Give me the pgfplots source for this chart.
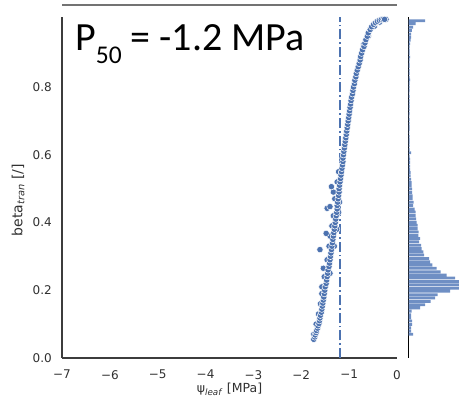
\documentclass[border=0pt]{standalone}
\usepackage{pgfplots}
\pgfplotsset{compat=1.18}
\usepackage{fontspec}
\setmainfont{DejaVu Sans}
\newfontfamily\carlito{Carlito}
\definecolor{sbblue}{HTML}{4C72B0}
\definecolor{histblue}{HTML}{6F8FC4}
\definecolor{spinec}{HTML}{3C3C3C}
\definecolor{tickc}{HTML}{303030}
\begin{document}
\begin{tikzpicture}
\useasboundingbox (0,0) rectangle (459pt,401pt);
\draw[color=black!55, line width=2pt] (62pt,396pt) -- (397pt,396pt);
\begin{axis}[
 at={(62pt,43pt)}, anchor=south west, scale only axis,
 width=335pt, height=341pt,
 xmin=-7, xmax=0, ymin=0, ymax=1.007,
 axis x line*=bottom, axis y line*=left,
 axis line style={spinec, line width=1.1pt, -},
 xtick={-7,-6,-5,-4,-3,-2,-1,0}, xticklabels={−7,−6,−5,−4,−3,−2,−1,0},
 ytick={0,0.2,0.4,0.6,0.8}, yticklabels={0.0,0.2,0.4,0.6,0.8},
 major tick length=0pt,
 tick label style={font=\fontsize{12}{14}\selectfont, text=tickc},
 xticklabel style={anchor=north, inner sep=0pt, yshift=-12pt},
 yticklabel style={anchor=east, inner sep=0pt, xshift=-10pt},
 xlabel={ψ\textsubscript{\textit{leaf}} [MPa]},
 ylabel={beta\textsubscript{\textit{tran}} [/]},
 xlabel style={font=\fontsize{12.5}{14}\selectfont, text=tickc, at={(axis description cs:0.5,0)}, anchor=base, yshift=-35pt},
 ylabel style={font=\fontsize{14}{16}\selectfont, text=tickc, at={(axis description cs:-0.131,0.463)}, anchor=center},
 clip=false,
]
\addplot[only marks, mark=*, mark size=3.2pt, mark options={fill=sbblue, draw=white, line width=0.5pt}] coordinates {
(-1.74,0.070) (-1.69,0.100) (-1.64,0.130) (-1.60,0.160) (-1.57,0.190) (-1.57,0.210)
(-1.52,0.240) (-1.54,0.265) (-1.46,0.290) (-1.61,0.320) (-1.42,0.330) (-1.40,0.360)
(-1.48,0.368) (-1.36,0.390) (-1.33,0.420) (-1.46,0.442) (-1.40,0.447) (-1.30,0.470)
(-1.33,0.490) (-1.37,0.506) (-1.25,0.520) (-1.22,0.550)
(-1.22,0.430) (-1.20,0.460) (-1.26,0.380) (-1.31,0.330) (-1.40,0.250)
(-0.70,0.925) (-0.60,0.950) (-0.47,0.980) (-0.36,0.992) (-0.23,1.000)
(-1.74,0.055) (-1.72,0.062) (-1.71,0.068) (-1.69,0.075) (-1.68,0.081) (-1.66,0.088)
(-1.65,0.095) (-1.63,0.102) (-1.62,0.110) (-1.61,0.118) (-1.60,0.126) (-1.58,0.135)
(-1.57,0.144) (-1.56,0.153) (-1.55,0.162) (-1.54,0.171) (-1.53,0.180) (-1.52,0.190)
(-1.51,0.200) (-1.50,0.210) (-1.48,0.220) (-1.47,0.230) (-1.46,0.240) (-1.45,0.250)
(-1.44,0.260) (-1.42,0.270) (-1.41,0.280) (-1.40,0.290) (-1.39,0.300) (-1.38,0.310)
(-1.37,0.320) (-1.36,0.330) (-1.35,0.340) (-1.34,0.350) (-1.33,0.360) (-1.32,0.370)
(-1.31,0.380) (-1.30,0.390) (-1.29,0.400) (-1.28,0.410) (-1.27,0.420) (-1.26,0.430)
(-1.25,0.440) (-1.25,0.450) (-1.24,0.460) (-1.23,0.470) (-1.22,0.480) (-1.21,0.490)
(-1.21,0.500) (-1.20,0.510) (-1.19,0.520) (-1.18,0.530) (-1.17,0.540) (-1.16,0.550)
(-1.15,0.560) (-1.14,0.570) (-1.13,0.580) (-1.13,0.590) (-1.12,0.600) (-1.11,0.610)
(-1.10,0.620) (-1.09,0.630) (-1.08,0.640) (-1.07,0.650) (-1.06,0.660) (-1.05,0.670)
(-1.04,0.680) (-1.03,0.690) (-1.02,0.700) (-1.01,0.710) (-1.00,0.720) (-0.99,0.730)
(-0.98,0.740) (-0.97,0.750) (-0.96,0.760) (-0.95,0.770) (-0.93,0.780) (-0.92,0.790)
(-0.91,0.800) (-0.89,0.810) (-0.88,0.820) (-0.86,0.830) (-0.85,0.840) (-0.83,0.850)
(-0.81,0.860) (-0.79,0.870) (-0.77,0.880) (-0.76,0.890) (-0.74,0.900) (-0.72,0.910)
(-0.69,0.920) (-0.67,0.930) (-0.65,0.940) (-0.62,0.950) (-0.60,0.960) (-0.56,0.970)
(-0.53,0.978) (-0.49,0.985) (-0.45,0.990) (-0.41,0.994) (-0.37,0.997) (-0.33,0.999)
(-0.29,1.000) (-0.26,1.000)
};
\addplot[sbblue, line width=2pt, dash pattern=on 10pt off 3pt on 1.7pt off 3pt] coordinates {(-1.2,0) (-1.2,1.007)};
\end{axis}
\begin{axis}[
 at={(408.5pt,43pt)}, anchor=south west, scale only axis,
 width=50.5pt, height=341pt,
 xmin=0, xmax=50.5, ymin=0, ymax=1.007,
 hide x axis, axis y line*=left,
 axis line style={black, line width=1.3pt, -},
 ytick=\empty, xtick=\empty,
 xbar, bar width=0.0082, bar shift=0pt,
 clip=false,
]
\addplot[fill=histblue, draw=none] coordinates {
(4.5,0.070) (2.5,0.080) (2.5,0.089) (3.5,0.099) (3.5,0.109) (2.5,0.119) (2.5,0.128) (3.2,0.138)
(11.5,0.148) (16.5,0.157) (22.2,0.167) (26.5,0.177) (29.2,0.187) (41.5,0.197) (50.5,0.206) (50.5,0.216)
(50.5,0.226) (46.5,0.236) (38.2,0.245) (32.2,0.255) (28.2,0.265) (23.8,0.275) (21.5,0.284) (20.5,0.294)
(15.5,0.304) (14.8,0.314) (13.2,0.323) (12.5,0.333) (10.5,0.343) (11.5,0.353) (9.8,0.362) (10,0.372)
(9,0.382) (9,0.392) (8,0.401) (7.5,0.411) (7,0.421) (7,0.431) (6,0.440) (4.5,0.450)
(5,0.460) (4,0.470) (4,0.479) (3.5,0.489) (3.5,0.499) (3,0.509) (3,0.518) (2.5,0.528)
(2,0.538) (2,0.548) (1.5,0.557) (1.5,0.567) (1.5,0.577) (1.5,0.587) (1.2,0.596) (2.5,0.606)
(1.2,0.616) (1,0.626) (1,0.636) (1.2,0.645) (1,0.655) (0.8,0.665) (1,0.675) (1,0.684)
(1.2,0.694) (1,0.704) (0.8,0.714) (1,0.723) (1,0.733) (1,0.743) (1.2,0.752) (1,0.762)
(1,0.772) (0.8,0.782) (1,0.791) (1,0.801) (1,0.811) (1.5,0.821) (1,0.830) (1,0.840)
(1,0.850) (1.2,0.860) (1,0.869) (1,0.879) (1.5,0.889) (1,0.899) (1.2,0.908) (1.2,0.918)
(1.5,0.928) (2,0.938) (2.5,0.947) (2.5,0.957) (3.3,0.967) (4.5,0.977) (7,0.987) (16.5,0.996)
};
\end{axis}
\node[anchor=base west, inner sep=0pt, font=\carlito\fontsize{40}{40}\selectfont] at (75pt,350pt) {P\raisebox{-13pt}{\fontsize{25.5}{25.5}\selectfont 50} = -1.2 MPa};
\end{tikzpicture}
\end{document}
